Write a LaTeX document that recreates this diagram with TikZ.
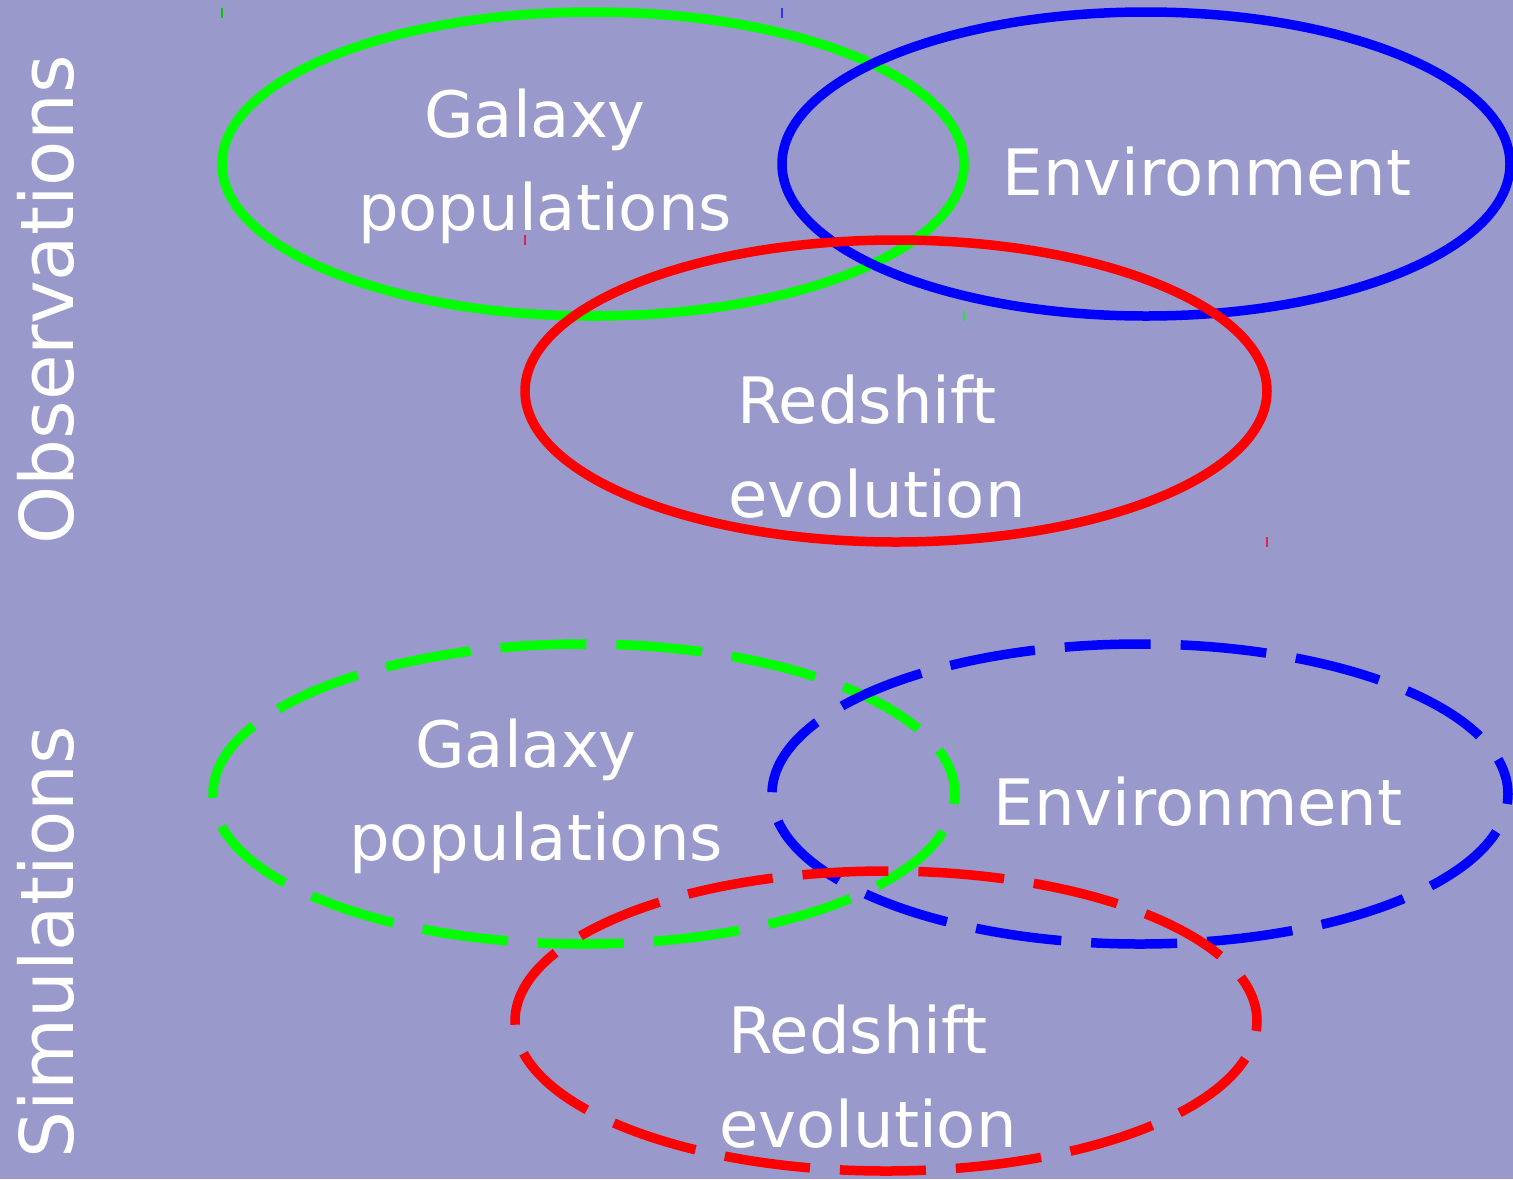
\documentclass[tikz,border=0pt]{standalone}
\usepackage{fontspec}
\setmainfont{DejaVu Sans}
\definecolor{bgc}{RGB}{153,153,204}
\definecolor{tickred}{RGB}{220,40,80}
\begin{document}
\begin{tikzpicture}[x=1pt,y=-1pt,
  lbl/.style={text=white,font=\fontsize{64}{64}\selectfont,anchor=base,inner sep=0pt},
  side/.style={text=white,font=\fontsize{74}{74}\selectfont,anchor=base,rotate=90,inner sep=0pt},
  ring/.style={line width=9.5pt},
  dring/.style={line width=9.5pt,dash pattern=on 86pt off 30pt,dash phase=76pt},
  tick/.style={line width=2pt}]
\fill[bgc] (0,0) rectangle (1513,1179);
\useasboundingbox (0,0) rectangle (1513,1179);
% observations
\draw[ring,green] (593,164) ellipse [x radius=371,y radius=152];
\draw[ring,blue] (1146,164) ellipse [x radius=364,y radius=152];
\draw[ring,red] (896,391) ellipse [x radius=371,y radius=151];
% simulations
\draw[dring,green] (584,794) ellipse [x radius=371,y radius=150];
\draw[dring,blue] (1140,794) ellipse [x radius=368,y radius=150];
\draw[dring,red] (886,1021) ellipse [x radius=371,y radius=150];
% small marks
\coordinate (t1a) at (222,8); \coordinate (t1b) at (222,18);
\coordinate (t2a) at (782,8); \coordinate (t2b) at (782,18);
\coordinate (t3a) at (525,235); \coordinate (t3b) at (525,245);
\coordinate (t4a) at (964,311); \coordinate (t4b) at (964,321);
\coordinate (t5a) at (1267,537); \coordinate (t5b) at (1267,547);
\draw[tick,green!80!black] (t1a) -- (t1b);
\draw[tick,blue!80!white] (t2a) -- (t2b);
\draw[tick,tickred] (t3a) -- (t3b);
\draw[tick,green!70!bgc] (t4a) -- (t4b);
\draw[tick,tickred] (t5a) -- (t5b);
% labels top
\node[lbl] (g1) at (535,137) {Galaxy};
\node[lbl] (p1) at (545,230) {populations};
\node[lbl] (e1) at (1207,195) {Environment};
\node[lbl] (r1) at (867,423) {Redshift};
\node[lbl] (v1) at (877,517) {evolution};
% labels bottom
\node[lbl] (g2) at (526,767) {Galaxy};
\node[lbl] (p2) at (536,860) {populations};
\node[lbl] (e2) at (1198,825) {Environment};
\node[lbl] (r2) at (858,1053) {Redshift};
\node[lbl] (v2) at (868,1147) {evolution};
% side labels
\node[side] (obs) at (73,300) {Observations};
\node[side] (sim) at (73,942) {Simulations};
\end{tikzpicture}
\end{document}
